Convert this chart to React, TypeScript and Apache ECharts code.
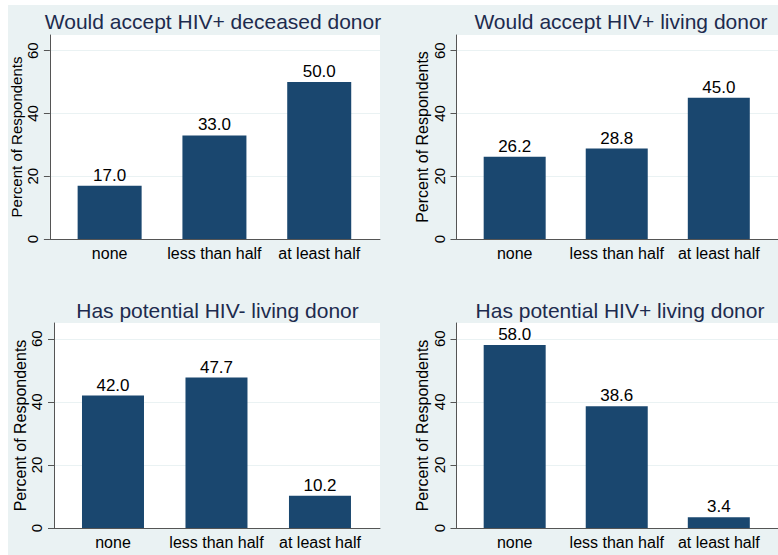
import React, { useEffect, useRef } from "react";
import * as echarts from "echarts";

const categories = ["none", "less than half", "at least half"];
const panelTitles = [
  "Would accept HIV+ deceased donor",
  "Would accept HIV+ living donor",
  "Has potential HIV- living donor",
  "Has potential HIV+ living donor",
];
const acceptDeceasedPlus = [17.0, 33.0, 50.0];
const acceptLivingPlus = [26.2, 28.8, 45.0];
const potentialLivingMinus = [42.0, 47.7, 10.2];
const potentialLivingPlus = [58.0, 38.6, 3.4];
const yTicks = [0, 20, 40, 60];
const yAxisTitle = "Percent of Respondents";

const panelValues = [acceptDeceasedPlus, acceptLivingPlus, potentialLivingMinus, potentialLivingPlus];

const FONT = "'Liberation Sans', Arial, Helvetica, sans-serif";

const layouts = [
  { left: 41, top: 30, width: 331, height: 204, barWidth: 64, titleX: 205, titleY: 16, nameSize: 15, nameGap: 21 },
  { left: 448.5, top: 30, width: 326.5, height: 204, barWidth: 62, titleX: 613, titleY: 16, nameSize: 16, nameGap: 24 },
  { left: 46, top: 318, width: 326, height: 205, barWidth: 62, titleX: 209.5, titleY: 305, nameSize: 16, nameGap: 25 },
  { left: 448.5, top: 318, width: 326.5, height: 205, barWidth: 62, titleX: 612, titleY: 305, nameSize: 16, nameGap: 24 },
];

export default function App() {
  const ref = useRef<HTMLDivElement>(null);
  useEffect(() => {
    if (!ref.current) return;
    const chart = echarts.init(ref.current, undefined, { renderer: "svg" });
    const axisColor = "#555";
    const option: any = {
      animation: false,
      backgroundColor: "#eaf2f3",
      textStyle: { fontFamily: FONT },
      grid: layouts.map((l) => ({
        left: l.left,
        top: l.top,
        width: l.width,
        height: l.height,
        show: true,
        backgroundColor: "#ffffff",
        borderWidth: 0,
        containLabel: false,
      })),
      xAxis: layouts.map((l, i) => ({
        type: "value",
        gridIndex: i,
        min: -0.57,
        max: 2.58,
        axisLine: { show: true, onZero: false, lineStyle: { color: axisColor, width: 1 } },
        axisTick: { show: false },
        splitLine: { show: false },
        axisLabel: {
          customValues: [0, 1, 2],
          formatter: (v: number) => categories[Math.round(v)] ?? "",
          fontSize: 16,
          color: "#000",
          margin: 6,
          fontFamily: FONT,
        },
      })),
      yAxis: layouts.map((l, i) => ({
        type: "value",
        gridIndex: i,
        min: 0,
        max: 65,
        interval: 20,
        axisLine: { show: true, onZero: false, lineStyle: { color: axisColor, width: 1 } },
        axisTick: { show: true, length: 6, customValues: yTicks, lineStyle: { color: axisColor } },
        axisLabel: {
          customValues: yTicks,
          rotate: 90,
          fontSize: 15,
          margin: 10,
          color: "#000",
          fontFamily: FONT,
        },
        splitLine: { show: true, lineStyle: { color: "#eaf2f3", width: 1 } },
        name: yAxisTitle,
        nameLocation: "middle",
        nameRotate: 90,
        nameGap: l.nameGap,
        nameTextStyle: { fontSize: l.nameSize, color: "#000", fontFamily: FONT },
      })),
      series: layouts.map((l, i) => ({
        type: "bar",
        xAxisIndex: i,
        yAxisIndex: i,
        barWidth: l.barWidth,
        data: panelValues[i].map((v, k) => [k, v]),
        itemStyle: { color: "#1a476f" },
        label: {
          show: true,
          position: "top",
          distance: 2,
          formatter: (p: any) => Number(p.value[1]).toFixed(1),
          fontSize: 17,
          color: "#000",
          fontFamily: FONT,
        },
      })),
      graphic: layouts.map((l, i) => ({
        type: "text",
        x: l.titleX,
        y: l.titleY,
        style: {
          text: panelTitles[i],
          fontSize: 21,
          fontFamily: FONT,
          fill: "#1d2b4e",
          align: "center",
          verticalAlign: "middle",
          textAlign: "center",
          textVerticalAlign: "middle",
        },
      })),
    };
    chart.setOption(option);
    return () => chart.dispose();
  }, []);
  return (
    <div
      ref={ref}
      style={{ position: "absolute", left: 8, top: 5, width: 770, height: 550 }}
    />
  );
}
